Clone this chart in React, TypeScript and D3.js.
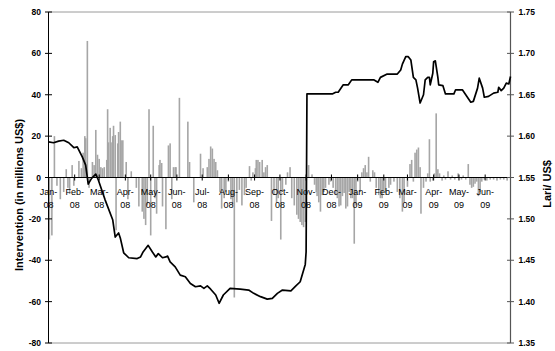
import React from "react";
import * as d3 from "d3";

// Daily central bank intervention (millions US$), day offset from 1 Jan 2008
const barDays = [
  1, 4, 7, 10, 14, 18, 21, 23, 25, 28, 30, 36, 39, 41, 43, 44, 46, 48, 52, 54,
  56, 58, 60, 62, 64, 66, 69, 70, 71, 73, 74, 76, 77, 79, 80, 82, 83, 85, 86, 88,
  92, 94, 98, 104, 107, 111, 113, 115, 117, 119, 121, 124, 126, 128, 131, 132, 134, 135, 139, 142,
  144, 146, 148, 150, 151, 155, 165, 167, 172, 180, 183, 188, 190, 192, 194, 196, 198, 200, 203, 205,
  208, 210, 213, 216, 218, 220, 223, 226, 229, 232, 234, 238, 240, 242, 245, 246, 248, 250, 253, 255,
  257, 259, 264, 267, 270, 272, 275, 277, 281, 283, 286, 288, 291, 294, 296, 298, 300, 302, 304, 308,
  312, 315, 317, 318, 320, 322, 324, 326, 328, 332, 334, 337, 340, 342, 344, 346, 348, 350, 352, 354,
  356, 358, 360, 362, 364, 366, 369, 371, 373, 375, 377, 379, 381, 384, 386, 388, 391, 393, 395, 397,
  399, 403, 405, 409, 413, 416, 419, 421, 425, 428, 430, 432, 434, 436, 438, 440, 441, 444, 447, 449,
  451, 452, 455, 457, 459, 461, 463, 466, 468, 470, 473, 476, 478, 481, 485, 489, 491, 494, 497, 499,
  501, 503, 505, 507, 509, 511, 513, 516, 519, 523, 527, 531, 535, 539, 543,
];
const barValues = [
  -30, -28, 20, -4, -10.5, -7, 4, -5, -8, 6, -4, 8, 4.5, 12, 20, 19, 66, -5, 7.5, 6,
  23, 11, 9, 5, 4.5, 5, 8.5, 33, 17, 24, 17, 20, 25, 20.5, -25.5, 16.5, 22, 27, 18, 18,
  7.5, -10.5, 3, -5, -14, -16.5, -20, -23, -13.5, 33, -28, 25, -10, -17.5, 6, 8.5, 7, -14, -25, 15.5,
  16.5, -10.5, 5, 5, 5, 38.5, 27, 7.5, -12, 11.5, 4.5, 5, 9, 15, 14, 9, 7.5, 3.5, -7, -15,
  -10, -7, -2, -10.5, -13.5, -58, -12, -6, -13.5, -8.5, -5, 5.5, -1.5, 2.5, 4.5, 8.5, 8.5, 7.5, 8.5, 2.5,
  5, 6, -21, -8.5, -12, -10, -30, -7, -3.5, 2.5, 5, -10, -13.5, -18, -20, -21.5, -23, -24, -21.5, 6,
  1.5, -3.5, -7, -9, -12, -16.5, -8.5, -7, -5, -3.5, -2, -5, -8.5, -10, -14, -13.5, -9, -7.5, -15, -14,
  -7, -10, -10, -32, -13.5, -2, -7, 2.5, 4.5, 6, 2.5, 10, -2, 3.5, 2.5, -5, -8.5, -10, -10, -6,
  -7.5, -5, -3.5, -2, -7, -10, -16.5, -12, -4.5, 6.5, 8.5, -2, 12, 13.5, 14.5, 5, -17.5, -5, -2, 2,
  18.5, -2, -1.5, 2, 31, 4, 2, -1.5, 1, -1, 3, -1, 1, -1, 2, -1, 1, -1, 6.5, -3.5,
  -5, -4.5, -3, -2, -9, -7, -2, -1, -1.5, -1, -1, -1.5, -1, -1, -1.5,
];

// Lari per US$ exchange rate, day offset from 1 Jan 2008
const rateDays = [
  0, 6, 12, 18, 24, 30, 34, 40, 44, 47,
  51, 56, 59, 67, 76, 79, 83, 85, 89, 95,
  105, 109, 112, 118, 123, 127, 130, 135, 139, 141,
  144, 150, 156, 162, 168, 174, 180, 184, 188, 192,
  198, 202, 207, 215, 227, 237, 243, 251, 259, 265,
  271, 277, 287, 292, 298, 302, 304, 305, 306, 336,
  340, 343, 349, 355, 359, 385, 390, 393, 401, 413,
  417, 419, 423, 426, 429, 432, 435, 437, 440, 444,
  446, 449, 451, 452, 455, 456, 458, 461, 462, 467,
  470, 480, 482, 490, 494, 500, 503, 508, 510, 514,
  516, 521, 527, 532, 533, 536, 539, 542, 545, 547,
];
const rateValues = [
  1.593, 1.592, 1.594, 1.595, 1.592, 1.586, 1.587, 1.575, 1.565, 1.542,
  1.549, 1.554, 1.547, 1.523, 1.499, 1.478, 1.483, 1.477, 1.459, 1.453,
  1.452, 1.454, 1.46, 1.468, 1.46, 1.454, 1.458, 1.453, 1.454, 1.455,
  1.448, 1.442, 1.432, 1.43, 1.422, 1.418, 1.419, 1.416, 1.419, 1.415,
  1.408, 1.398, 1.408, 1.416, 1.415, 1.414, 1.41, 1.406, 1.403, 1.404,
  1.41, 1.414, 1.413, 1.418, 1.424, 1.438, 1.445, 1.46, 1.651, 1.651,
  1.653, 1.653, 1.662, 1.662, 1.668, 1.668, 1.665, 1.671, 1.675, 1.675,
  1.68, 1.687, 1.696, 1.696, 1.692, 1.671, 1.668, 1.658, 1.64, 1.65,
  1.668, 1.671, 1.671, 1.662, 1.676, 1.69, 1.691, 1.671, 1.662, 1.661,
  1.651, 1.651, 1.656, 1.656, 1.65, 1.641, 1.642, 1.658, 1.67, 1.658,
  1.647, 1.648, 1.652, 1.653, 1.659, 1.655, 1.658, 1.664, 1.663, 1.672,
];

const leftTicks = [-80, -60, -40, -20, 0, 20, 40, 60, 80];
const rightTicks = [1.35, 1.4, 1.45, 1.5, 1.55, 1.6, 1.65, 1.7, 1.75];

const W = 555;
const H = 351;
const PL = 48.5;
const PR = 510.5;
const PT = 12;
const PB = 343;
const FONT = "'Liberation Sans', Arial, sans-serif";

const start = new Date(Date.UTC(2008, 0, 1));
const end = new Date(Date.UTC(2009, 6, 1));
const dayDate = (d: number) => d3.utcDay.offset(start, d);

export default function App() {
  const x = d3.scaleUtc().domain([start, end]).range([PL, PR]);
  const yL = d3.scaleLinear().domain([-80, 80]).range([PB, PT]);
  const yR = d3.scaleLinear().domain([1.35, 1.75]).range([PB, PT]);
  const y0 = yL(0);

  const months = d3.utcMonth.range(start, end);
  const fmtMon = d3.utcFormat("%b-");
  const fmtYr = d3.utcFormat("%y");

  const ratePts = rateDays.map((d, i) => [dayDate(d), rateValues[i]] as [Date, number]);
  const linePath = d3
    .line<[Date, number]>()
    .x((p) => x(p[0]))
    .y((p) => yR(p[1]))(ratePts);

  const bw = 1.6;

  return (
    <div style={{ position: "absolute", left: 0, top: 0 }}>
      <svg width={W} height={H} style={{ display: "block", background: "#fff" }}>
        {/* plot frame top / bottom */}
        <line x1={PL} x2={PR} y1={PT} y2={PT} stroke="#9a9a9a" strokeWidth={1} />
        <line x1={PL} x2={PR} y1={PB} y2={PB} stroke="#9a9a9a" strokeWidth={1} />

        {/* intervention bars */}
        <g fill="#a6a6a6">
          {barDays.map((d, i) => {
            const v = barValues[i];
            const yy = yL(v);
            return (
              <rect
                key={i}
                x={x(dayDate(d)) - bw / 2}
                y={Math.min(yy, y0)}
                width={bw}
                height={Math.abs(yy - y0)}
              />
            );
          })}
        </g>

        {/* x axis at zero */}
        <line x1={PL} x2={PR} y1={y0} y2={y0} stroke="#000" strokeWidth={1} />
        {months.map((m, i) => (
          <g key={i}>
            <line x1={x(m)} x2={x(m)} y1={y0 - 3} y2={y0 + 3} stroke="#000" strokeWidth={1} />
            <text x={x(m)} y={195} textAnchor="middle" fontFamily={FONT} fontSize={9} fill="#000">
              {fmtMon(m)}
            </text>
            <text x={x(m)} y={207.5} textAnchor="middle" fontFamily={FONT} fontSize={9} fill="#000">
              {fmtYr(m)}
            </text>
          </g>
        ))}

        {/* left axis */}
        <line x1={PL} x2={PL} y1={PT} y2={PB} stroke="#000" strokeWidth={1} />
        {leftTicks.map((t) => (
          <g key={t}>
            <line x1={PL - 3.5} x2={PL + 3.5} y1={yL(t)} y2={yL(t)} stroke="#000" strokeWidth={1} />
            <text
              x={41}
              y={yL(t) + 3}
              textAnchor="end"
              fontFamily={FONT}
              fontSize={8.5}
              fontWeight="bold"
              fill="#000"
            >
              {t}
            </text>
          </g>
        ))}

        {/* right axis */}
        <line x1={PR} x2={PR} y1={PT} y2={PB} stroke="#555" strokeWidth={1.2} />
        {rightTicks.map((t) => (
          <g key={t}>
            <line x1={PR - 3.5} x2={PR + 3.5} y1={yR(t)} y2={yR(t)} stroke="#555" strokeWidth={1} />
            <text
              x={518.5}
              y={yR(t) + 3}
              textAnchor="start"
              fontFamily={FONT}
              fontSize={8.5}
              fontWeight="bold"
              fill="#000"
            >
              {d3.format(".2f")(t)}
            </text>
          </g>
        ))}

        {/* exchange rate line */}
        <path d={linePath ?? ""} fill="none" stroke="#000" strokeWidth={1.7} strokeLinejoin="round" />

        {/* axis titles */}
        <text
          transform={`translate(23,195) rotate(-90)`}
          textAnchor="middle"
          fontFamily={FONT}
          fontSize={11}
          fontWeight="bold"
          fill="#000"
        >
          Intervention (in millions US$)
        </text>
        <text
          transform={`translate(551,184) rotate(-90)`}
          textAnchor="middle"
          fontFamily={FONT}
          fontSize={11}
          fontWeight="bold"
          fill="#000"
        >
          Lari/ US$
        </text>
      </svg>
    </div>
  );
}
